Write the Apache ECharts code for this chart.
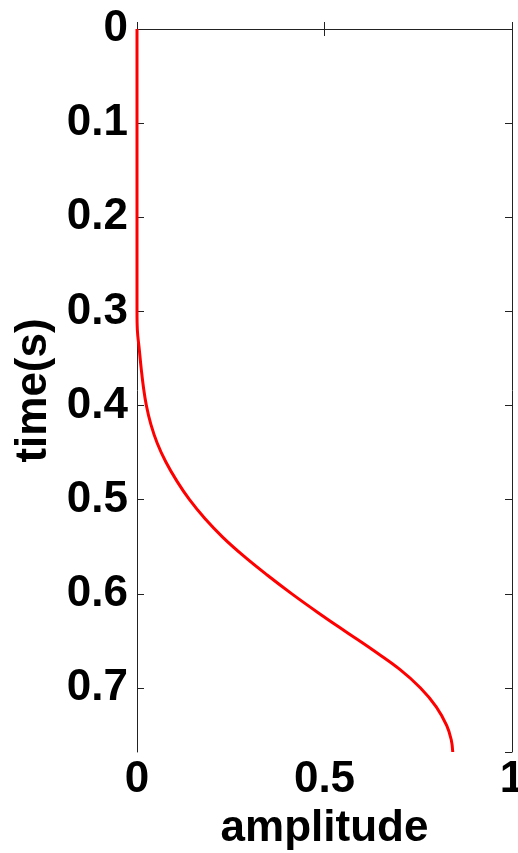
<!DOCTYPE html>
<html>
<head>
<meta charset="utf-8">
<script src="https://cdn.jsdelivr.net/npm/echarts@6/dist/echarts.min.js"></script>
<style>
html,body{margin:0;padding:0;background:#fff;}
#chart{width:518px;height:853px;}
</style>
</head>
<body>
<div id="chart"></div>
<script>
var timeValues = [0, 0.1, 0.2, 0.3, 0.32, 0.34, 0.36, 0.38, 0.4, 0.42, 0.44, 0.46, 0.48, 0.5, 0.52, 0.54, 0.56, 0.58, 0.6, 0.62, 0.64, 0.66, 0.68, 0.7, 0.72, 0.74, 0.755, 0.768];
var amplitudeValues = [0, 0, 0, 0, 0.001, 0.006, 0.011, 0.017, 0.025, 0.037, 0.054, 0.077, 0.106, 0.140, 0.181, 0.229, 0.285, 0.347, 0.413, 0.483, 0.556, 0.630, 0.700, 0.756, 0.798, 0.826, 0.838, 0.842];
var xTicks = [0, 0.5, 1];
var yTicks = [0, 0.1, 0.2, 0.3, 0.4, 0.5, 0.6, 0.7];
var xName = 'amplitude';
var yName = 'time(s)';

var points = timeValues.map(function (t, i) { return [amplitudeValues[i], t]; });

var chart = echarts.init(document.getElementById('chart'));
var font = { fontFamily: 'Liberation Sans', fontWeight: 'bold', fontSize: 44, color: '#000' };
var lineStyle = { color: '#222', width: 1 };
chart.setOption({
  animation: false,
  backgroundColor: '#fff',
  grid: { left: 137, right: 6, top: 29, bottom: 101, outerBoundsMode: 'none', containLabel: false },
  xAxis: [{
    type: 'value', min: 0, max: 1, interval: 0.5, position: 'bottom',
    name: xName, nameLocation: 'middle', nameGap: 54,
    nameTextStyle: font,
    axisLine: { show: true, lineStyle: lineStyle },
    axisTick: { show: true, inside: true, length: 7, lineStyle: lineStyle },
    axisLabel: Object.assign({ margin: 6, formatter: function (v) { return xTicks.indexOf(v) >= 0 ? String(v) : ''; } }, font),
    splitLine: { show: false }
  }, {
    type: 'value', min: 0, max: 1, interval: 0.5, position: 'top',
    axisLine: { show: true, onZero: false, lineStyle: lineStyle },
    axisTick: { show: true, inside: true, length: 7, lineStyle: lineStyle },
    axisLabel: { show: false },
    splitLine: { show: false }
  }],
  yAxis: [{
    type: 'value', min: 0, max: 0.768, interval: 0.1, inverse: true, position: 'left',
    name: yName, nameLocation: 'middle', nameGap: 74, nameRotate: 90,
    nameTextStyle: font,
    axisLine: { show: true, lineStyle: lineStyle },
    axisTick: { show: true, inside: true, length: 7, lineStyle: lineStyle },
    axisLabel: Object.assign({ margin: 9, showMaxLabel: false, formatter: function (v) { return yTicks.indexOf(Math.round(v * 10) / 10) >= 0 ? String(Math.round(v * 10) / 10) : ''; } }, font),
    splitLine: { show: false }
  }, {
    type: 'value', min: 0, max: 0.768, interval: 0.1, inverse: true, position: 'right',
    axisLine: { show: true, onZero: false, lineStyle: lineStyle },
    axisTick: { show: true, inside: true, length: 7, lineStyle: lineStyle },
    axisLabel: { show: false },
    splitLine: { show: false }
  }],
  series: [{
    type: 'line', xAxisIndex: 0, yAxisIndex: 0,
    data: points, smooth: 0.4, showSymbol: false,
    lineStyle: { color: '#ff0000', width: 3 }
  }]
});
</script>
</body>
</html>
